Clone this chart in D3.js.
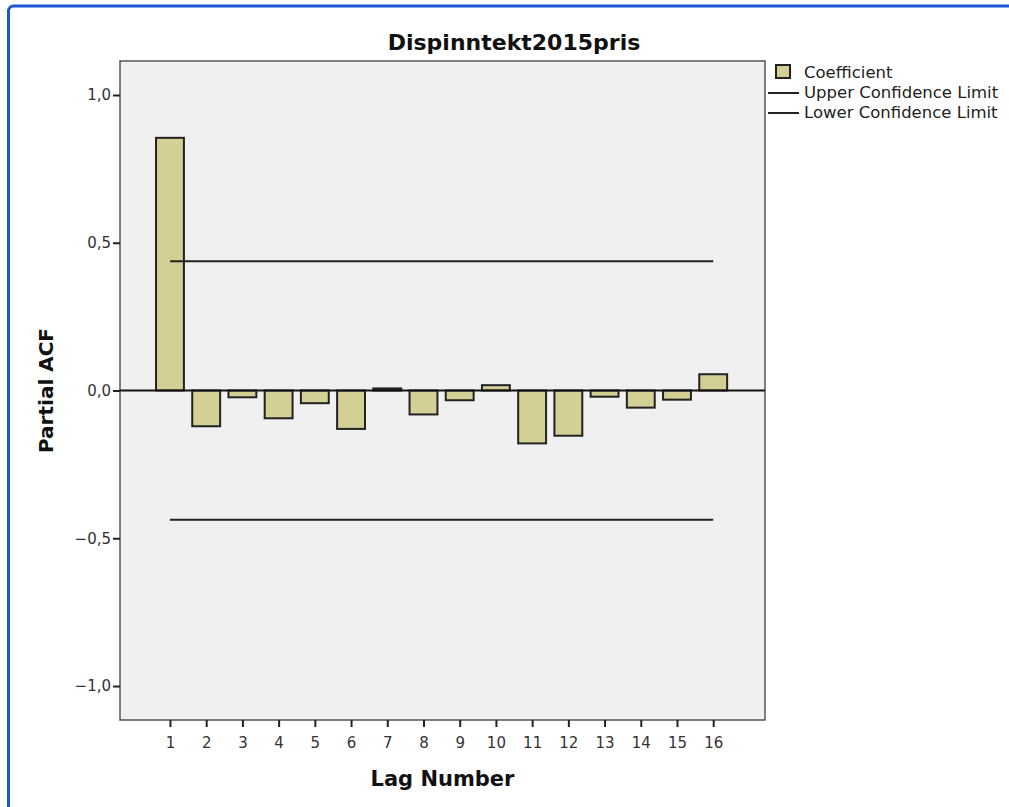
<!DOCTYPE html>
<html>
<head>
<meta charset="utf-8">
<script src="https://cdn.jsdelivr.net/npm/d3@7"></script>
<style>
  body { margin: 0; background: #fff; }
  svg { display: block; font-family: "DejaVu Sans", sans-serif; }
</style>
</head>
<body>
<svg id="pacf" width="1009" height="807"></svg>
<script>
// values
var lags = [1, 2, 3, 4, 5, 6, 7, 8, 9, 10, 11, 12, 13, 14, 15, 16];
var coefficient = [0.855, -0.121, -0.023, -0.094, -0.043, -0.130, 0.007, -0.081,
                   -0.033, 0.018, -0.179, -0.153, -0.021, -0.058, -0.031, 0.055];
var upperLimit = 0.437;
var lowerLimit = -0.437;
var yTicks = [-1.0, -0.5, 0.0, 0.5, 1.0];

var plot = {left: 120, right: 765, top: 61, bottom: 720};
var barColor = "#d3cf95";

var svg = d3.select("#pacf");

/* blue window frame */
svg.append("rect")
    .attr("x", 8.5).attr("y", 6)
    .attr("width", 1020).attr("height", 830)
    .attr("rx", 5)
    .attr("fill", "none")
    .attr("stroke", "#1957d8")
    .attr("stroke-width", 3);

var x = d3.scaleLinear()
    .domain([-0.38, 17.43])
    .range([plot.left, plot.right]);

var y = d3.scaleLinear()
    .domain([-1.115, 1.115])
    .range([plot.bottom, plot.top]);

var bandW = (x(2) - x(1)) * 0.77;

// plot background
svg.append("rect")
    .attr("x", plot.left).attr("y", plot.top)
    .attr("width", plot.right - plot.left)
    .attr("height", plot.bottom - plot.top)
    .attr("fill", "#f0f0f0")
    .attr("stroke", "#555")
    .attr("stroke-width", 1.5);

/* axes */
var fmt = d => d3.format(".1f")(d).replace(".", ",").replace("-", "\u2212");

var yAx = svg.append("g")
    .attr("transform", "translate(" + plot.left + ",0)")
    .call(d3.axisLeft(y).tickValues(yTicks).tickSize(7).tickPadding(2).tickFormat(fmt));

var xAx = svg.append("g")
    .attr("transform", "translate(0," + plot.bottom + ")")
    .call(d3.axisBottom(x).tickValues(lags).tickSize(7).tickPadding(10).tickFormat(d => d));

[yAx, xAx].forEach(function(g) {
    g.attr("font-size", null).attr("font-family", null);
    g.select(".domain").remove();
    g.selectAll(".tick line").attr("stroke", "#222").attr("stroke-width", 2);
    g.selectAll(".tick text")
        .attr("fill", "#333")
        .style("font-size", "15px")
        .style("font-family", "\"DejaVu Sans\", sans-serif");
});

/* bars */
svg.selectAll("rect.bar")
    .data(lags)
    .join("rect")
    .attr("class", "bar")
    .attr("x", (d) => x(d) - bandW / 2)
    .attr("width", bandW)
    .attr("y", (d, i) => y(Math.max(0, coefficient[i])))
    .attr("height", (d, i) => Math.abs(y(coefficient[i]) - y(0)))
    .attr("fill", barColor)
    .attr("stroke", "#222")
    .attr("stroke-width", 2);

/* zero reference line */
svg.append("line")
    .attr("x1", plot.left).attr("x2", plot.right)
    .attr("y1", y(0)).attr("y2", y(0))
    .attr("stroke", "#111")
    .attr("stroke-width", 2);

/* confidence limits */
var line = d3.line().x(d => x(d.x)).y(d => y(d.y));
[upperLimit, lowerLimit].forEach(function(v) {
    svg.append("path")
        .datum([{x: lags[0], y: v}, {x: lags[lags.length - 1], y: v}])
        .attr("d", line)
        .attr("fill", "none")
        .attr("stroke", "#222")
        .attr("stroke-width", 2);
});

/* titles */
svg.append("text")
    .attr("x", 514).attr("y", 50)
    .attr("text-anchor", "middle")
    .style("font-size", "22px").style("font-weight", "bold")
    .attr("fill", "#111")
    .text("Dispinntekt2015pris");

svg.append("text")
    .attr("x", (plot.left + plot.right) / 2).attr("y", 786)
    .attr("text-anchor", "middle")
    .style("font-size", "21px").style("font-weight", "bold")
    .attr("fill", "#111")
    .text("Lag Number");

svg.append("text")
    .attr("transform", "translate(53," + y(0) + ") rotate(-90)")
    .attr("text-anchor", "middle")
    .style("font-size", "20px").style("font-weight", "bold")
    .attr("fill", "#111")
    .text("Partial ACF");

/* legend */
var legend = svg.append("g").attr("transform", "translate(768,0)");
legend.append("rect")
    .attr("x", 8).attr("y", 65)
    .attr("width", 14).attr("height", 13)
    .attr("fill", barColor)
    .attr("stroke", "#222")
    .attr("stroke-width", 2);
[93, 113].forEach(function(ly) {
    legend.append("line")
        .attr("x1", 0).attr("x2", 31)
        .attr("y1", ly).attr("y2", ly)
        .attr("stroke", "#222")
        .attr("stroke-width", 2);
});
legend.selectAll("text")
    .data(["Coefficient", "Upper Confidence Limit", "Lower Confidence Limit"])
    .join("text")
    .attr("x", 36)
    .attr("y", (d, i) => 78 + i * 20)
    .style("font-size", "16.5px")
    .attr("fill", "#222")
    .text(d => d);
</script>
</body>
</html>
